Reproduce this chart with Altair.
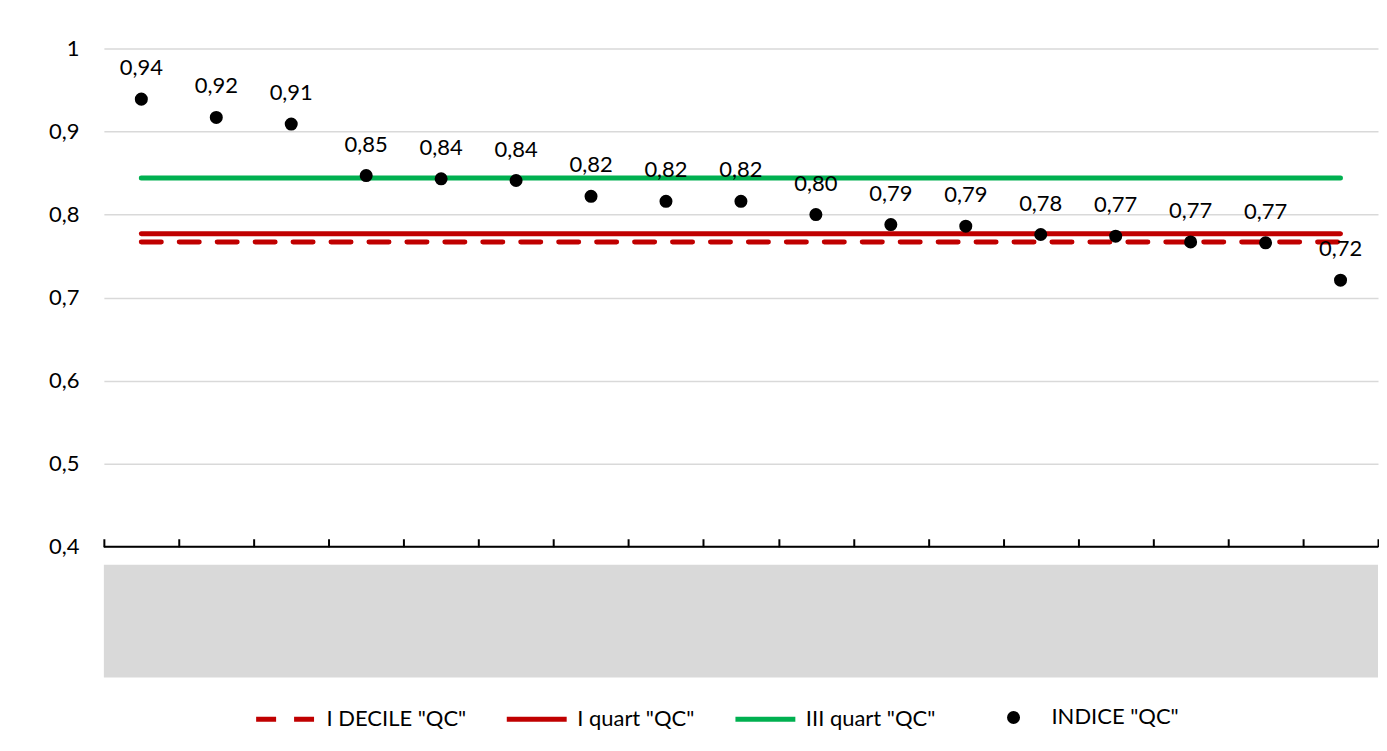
import altair as alt
import pandas as pd

categories = [str(i) for i in range(1, 18)]
indice = [0.939, 0.917, 0.909, 0.847, 0.843, 0.841, 0.822, 0.816, 0.816,
          0.800, 0.788, 0.786, 0.776, 0.774, 0.767, 0.766, 0.721]
decile_qc = 0.767
q1_qc = 0.777
q3_qc = 0.844
axis_min = [0.4]

LINE_SER = ['I DECILE "QC"', 'I quart "QC"', 'III quart "QC"']
PT_SER = ['INDICE "QC"']
LINE_COLORS = ['#C00000', '#C00000', '#00B050']
FONT = 'Lato'
FS = 22

line_rows = []
for c in categories:
    line_rows.append({'cat': c, 'series': LINE_SER[0], 'value': decile_qc})
    line_rows.append({'cat': c, 'series': LINE_SER[1], 'value': q1_qc})
    line_rows.append({'cat': c, 'series': LINE_SER[2], 'value': q3_qc})
df_lines = pd.DataFrame(line_rows)
df_pts = pd.DataFrame({'cat': categories, 'series': PT_SER[0], 'value': indice})

x_enc = alt.X(
    'cat:N', sort=categories,
    scale=alt.Scale(type='band', paddingInner=0, paddingOuter=0),
    axis=alt.Axis(title=None, labels=False, grid=False, tickBand='extent',
                  tickSize=8, tickColor='#000000', tickWidth=2,
                  domain=False, offset=-8)
)
y_enc = alt.Y(
    'value:Q', scale=alt.Scale(domain=[0.4, 1.0]),
    axis=alt.Axis(title=None, values=[0.4, 0.5, 0.6, 0.7, 0.8, 0.9, 1.0],
                  labelExpr="datum.value == 1 ? '1' : replace(format(datum.value, '.1f'), '.', ',')",
                  labelFontSize=FS, labelFont=FONT, labelColor='#000000',
                  labelPadding=25, ticks=False, domain=False,
                  gridColor='#D9D9D9', gridWidth=1.5)
)

line_legend = alt.Legend(title=None, orient='none', legendX=150, legendY=639,
                         direction='horizontal', symbolSize=3600,
                         symbolStrokeWidth=5, symbolType='stroke',
                         labelFontSize=FS, labelFont=FONT, labelColor='#000000',
                         columnPadding=30, labelOffset=8, labelLimit=400)

lines = alt.Chart(df_lines).mark_line(strokeWidth=5, strokeCap='round').encode(
    x=x_enc, y=y_enc,
    color=alt.Color('series:N', scale=alt.Scale(domain=LINE_SER, range=LINE_COLORS), legend=line_legend),
    strokeDash=alt.StrokeDash('series:N', scale=alt.Scale(domain=LINE_SER, range=[[20, 18], [1, 0], [1, 0]]),
                              legend=line_legend)
)
axis_line = alt.Chart(pd.DataFrame({'value': axis_min})).mark_rule(color='#000000', strokeWidth=2).encode(
    y=y_enc
)
pts = alt.Chart(df_pts).mark_point(filled=True, size=170, opacity=1, color='#000000').encode(
    x=x_enc, y=y_enc,
    shape=alt.Shape('series:N', scale=alt.Scale(domain=PT_SER, range=['circle']),
                    legend=alt.Legend(title=None, orient='none', legendX=900, legendY=659,
                                      symbolSize=170, labelFontSize=FS, labelFont=FONT,
                                      labelColor='#000000', labelOffset=27, labelLimit=400))
)
labels = alt.Chart(df_pts).transform_calculate(
    lab="replace(format(datum.value, '.2f'), '.', ',')"
).mark_text(dy=-31, fontSize=FS, font=FONT, color='#000000').encode(
    x=x_enc, y=y_enc, text='lab:N'
)

top = alt.layer(lines, axis_line, pts, labels).properties(width=1276, height=499)

grey = alt.Chart(pd.DataFrame({'a': [0]})).mark_point(opacity=0).encode(
    x=alt.value(0), y=alt.value(0)
).properties(width=1276, height=113, view=alt.ViewBackground(fill='#D9D9D9', stroke=None))

chart = alt.vconcat(top, grey, spacing=4).properties(
    padding={"left": 40, "top": 29, "right": 0, "bottom": 0},
    background='#FFFFFF'
).configure_view(stroke=None)

chart.save("out.html", embed_options={"renderer": "svg", "actions": False})
